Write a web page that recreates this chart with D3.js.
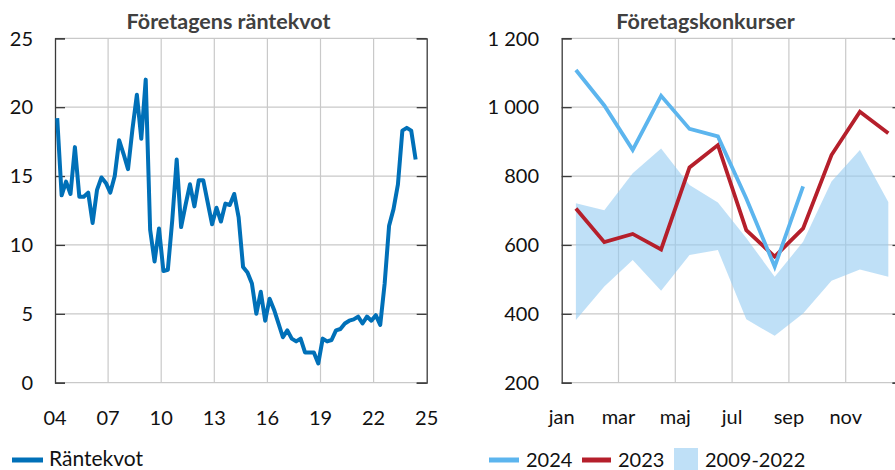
<!DOCTYPE html>
<html>
<head>
<meta charset="utf-8">
<script src="https://cdn.jsdelivr.net/npm/d3@7"></script>
<style>
  body { margin: 0; background: #fff; }
  svg { display: block; font-family: Lato, "Open Sans", sans-serif; }
</style>
</head>
<body>
<div id="chart"></div>
<script>
// Left panel: företagens räntekvot, quarterly 2004Q1 - 2024Q2
const rateValues = [
  19.2, 13.6, 14.6, 13.7, 17.1, 13.5, 13.5, 13.8, 11.6, 14.0,
  14.9, 14.5, 13.8, 15.0, 17.6, 16.6, 15.5, 18.4, 20.9, 17.7,
  22.0, 11.1, 8.8, 11.2, 8.1, 8.2, 11.8, 16.2, 11.3, 12.9,
  14.4, 12.8, 14.7, 14.7, 13.1, 11.5, 12.7, 11.7, 13.0, 12.9,
  13.7, 12.0, 8.4, 8.0, 7.2, 5.0, 6.6, 4.5, 6.1, 5.3,
  4.3, 3.3, 3.8, 3.2, 3.0, 3.2, 2.2, 2.2, 2.2, 1.4,
  3.2, 3.0, 3.1, 3.8, 3.9, 4.3, 4.5, 4.6, 4.8, 4.3,
  4.8, 4.5, 4.9, 4.2, 7.2, 11.4, 12.6, 14.4, 18.3, 18.5,
  18.3, 16.2
];
const startYear = 2004;
const yearTicks = [2004, 2007, 2010, 2013, 2016, 2019, 2022, 2025];
const rateTicks = [0, 5, 10, 15, 20, 25];

// Right panel: företagskonkurser per month
const months = ["jan", "feb", "mar", "apr", "maj", "jun", "jul", "aug", "sep", "okt", "nov", "dec"];
const monthLabels = ["jan", "mar", "maj", "jul", "sep", "nov"];
const bankrupt2024 = [1108, 1005, 876, 1033, 937, 915, 735, 537, 770];
const bankrupt2023 = [706, 608, 632, 587, 825, 890, 643, 566, 648, 861, 987, 924];
const rangeMax = [721, 701, 808, 880, 774, 723, 620, 508, 609, 784, 876, 725];
const rangeMin = [382, 479, 556, 467, 571, 585, 384, 336, 401, 496, 529, 508];
const countTicks = [200, 400, 600, 800, 1000, 1200];

const W = 895, H = 470;
const gridColor = "#c9c9c9";
const axisColor = "#3a3a3a";
const textColor = "#111";

const svg = d3.select("#chart").append("svg")
    .attr("width", W)
    .attr("height", H);

// quarter positions as decimal years (middle of quarter)
const quarterX = rateValues.map((v, i) => startYear + Math.floor(i / 4) + ((i % 4) + 0.5) / 4);

// ---------- left panel ----------
const xL = d3.scaleLinear().domain([2004, 2025]).range([55, 426.7]);
const yL = d3.scaleLinear().domain([0, 25]).range([382.7, 38.3]);

const left = svg.append("g");

// horizontal grid
left.selectAll(".hgrid")
    .data(rateTicks)
    .enter().append("line")
    .attr("x1", xL(2004)).attr("x2", xL(2025))
    .attr("y1", d => yL(d)).attr("y2", d => yL(d))
    .attr("stroke", gridColor).attr("stroke-width", 1.2);

// vertical grid
left.selectAll(".vgrid")
    .data(yearTicks.slice(1, -1))
    .enter().append("line")
    .attr("x1", d => xL(d)).attr("x2", d => xL(d))
    .attr("y1", yL(25)).attr("y2", yL(0))
    .attr("stroke", gridColor).attr("stroke-width", 1.2);

// left and right axes with inward ticks
left.append("g")
    .attr("transform", "translate(" + xL(2004) + ",0)")
    .call(d3.axisRight(yL).tickValues(rateTicks).tickSize(10).tickFormat(""))
    .call(g => g.select(".domain").attr("stroke", axisColor).attr("stroke-width", 1.3))
    .call(g => g.selectAll(".tick line").attr("stroke", axisColor).attr("stroke-width", 1.3));

left.append("g")
    .attr("transform", "translate(" + xL(2025) + ",0)")
    .call(d3.axisLeft(yL).tickValues(rateTicks).tickSize(10).tickFormat(""))
    .call(g => g.select(".domain").attr("stroke", axisColor).attr("stroke-width", 1.3))
    .call(g => g.selectAll(".tick line").attr("stroke", axisColor).attr("stroke-width", 1.3));

// y labels
left.selectAll(".ylab")
    .data(rateTicks)
    .enter().append("text")
    .attr("x", 33)
    .attr("y", d => yL(d))
    .attr("dy", "0.36em")
    .attr("text-anchor", "end")
    .attr("font-size", 20)
    .attr("fill", textColor)
    .text(d => d);

// x labels
left.selectAll(".xlab")
    .data(yearTicks)
    .enter().append("text")
    .attr("x", d => xL(d))
    .attr("y", 425)
    .attr("text-anchor", "middle")
    .attr("font-size", 20)
    .attr("fill", textColor)
    .text(d => String(d % 100).padStart(2, "0"));

// the line
left.append("path")
    .datum(rateValues)
    .attr("fill", "none")
    .attr("stroke", "#0070b8")
    .attr("stroke-width", 4)
    .attr("stroke-linejoin", "round")
    .attr("d", d3.line()
        .x((d, i) => xL(quarterX[i]))
        .y(d => yL(d)));

// title
left.append("text")
    .attr("x", 228.5).attr("y", 29)
    .attr("text-anchor", "middle")
    .attr("font-size", 21.5)
    .attr("font-weight", "bold")
    .attr("fill", "#404040")
    .text("Företagens räntekvot");

// legend
left.append("line")
    .attr("x1", 12).attr("x2", 43)
    .attr("y1", 460).attr("y2", 460)
    .attr("stroke", "#0070b8").attr("stroke-width", 5);
left.append("text")
    .attr("x", 49).attr("y", 466)
    .attr("font-size", 21)
    .attr("fill", textColor)
    .text("Räntekvot");

// ---------- right panel ----------
const xR = d3.scaleBand().domain(months).range([561.7, 902.5]).padding(0);
const yR = d3.scaleLinear().domain([200, 1200]).range([382.7, 38.3]);
const mid = m => xR(m) + xR.bandwidth() / 2;

const se = d3.formatLocale({ decimal: ",", thousands: " ", grouping: [3], currency: ["", " kr"] });
const fmt = se.format(",");

const right = svg.append("g");

right.selectAll(".hgrid")
    .data(countTicks)
    .enter().append("line")
    .attr("x1", 561.7).attr("x2", 902.5)
    .attr("y1", d => yR(d)).attr("y2", d => yR(d))
    .attr("stroke", gridColor).attr("stroke-width", 1.2);

right.selectAll(".vgrid")
    .data(monthLabels.slice(1))
    .enter().append("line")
    .attr("x1", d => xR(d)).attr("x2", d => xR(d))
    .attr("y1", yR(1200)).attr("y2", yR(200))
    .attr("stroke", gridColor).attr("stroke-width", 1.2);

// 2009-2022 band
right.append("path")
    .datum(months)
    .attr("fill", "#94cbf2")
    .attr("fill-opacity", 0.6)
    .attr("d", d3.area()
        .x(d => mid(d))
        .y0((d, i) => yR(rangeMin[i]))
        .y1((d, i) => yR(rangeMax[i])));

right.append("g")
    .attr("transform", "translate(561.7,0)")
    .call(d3.axisRight(yR).tickValues(countTicks).tickSize(10).tickFormat(""))
    .call(g => g.select(".domain").attr("stroke", axisColor).attr("stroke-width", 1.3))
    .call(g => g.selectAll(".tick line").attr("stroke", axisColor).attr("stroke-width", 1.3));

right.append("g")
    .attr("transform", "translate(902.5,0)")
    .call(d3.axisLeft(yR).tickValues(countTicks).tickSize(10).tickFormat(""))
    .call(g => g.select(".domain").attr("stroke", axisColor).attr("stroke-width", 1.3))
    .call(g => g.selectAll(".tick line").attr("stroke", axisColor).attr("stroke-width", 1.3));

right.selectAll(".ylab")
    .data(countTicks)
    .enter().append("text")
    .attr("x", 539)
    .attr("y", d => yR(d))
    .attr("dy", "0.36em")
    .attr("text-anchor", "end")
    .attr("font-size", 20)
    .attr("fill", textColor)
    .text(d => fmt(d));

right.selectAll(".xlab")
    .data(monthLabels)
    .enter().append("text")
    .attr("x", d => xR(d))
    .attr("y", 424)
    .attr("text-anchor", "middle")
    .attr("font-size", 20)
    .attr("fill", textColor)
    .text(d => d);

const lineR = d3.line()
    .x((d, i) => mid(months[i]))
    .y(d => yR(d));

right.append("path")
    .datum(bankrupt2023)
    .attr("fill", "none")
    .attr("stroke", "#b51f2b")
    .attr("stroke-width", 3.8)
    .attr("d", lineR);

right.append("path")
    .datum(bankrupt2024)
    .attr("fill", "none")
    .attr("stroke", "#5cb5ee")
    .attr("stroke-width", 3.8)
    .attr("d", lineR);

right.append("text")
    .attr("x", 705.5).attr("y", 29)
    .attr("text-anchor", "middle")
    .attr("font-size", 21.5)
    .attr("font-weight", "bold")
    .attr("fill", "#404040")
    .text("Företagskonkurser");

// legend
const legend = right.append("g");
legend.append("line")
    .attr("x1", 489).attr("x2", 519).attr("y1", 460).attr("y2", 460)
    .attr("stroke", "#5cb5ee").attr("stroke-width", 5);
legend.append("text")
    .attr("x", 526).attr("y", 467).attr("font-size", 20).attr("fill", textColor)
    .text("2024");
legend.append("line")
    .attr("x1", 582).attr("x2", 611).attr("y1", 460).attr("y2", 460)
    .attr("stroke", "#b51f2b").attr("stroke-width", 5);
legend.append("text")
    .attr("x", 618).attr("y", 467).attr("font-size", 20).attr("fill", textColor)
    .text("2023");
legend.append("rect")
    .attr("x", 674).attr("y", 448).attr("width", 24).attr("height", 24)
    .attr("fill", "#94cbf2").attr("fill-opacity", 0.6);
legend.append("text")
    .attr("x", 705).attr("y", 467).attr("font-size", 20).attr("fill", textColor)
    .text("2009-2022");
</script>
</body>
</html>
